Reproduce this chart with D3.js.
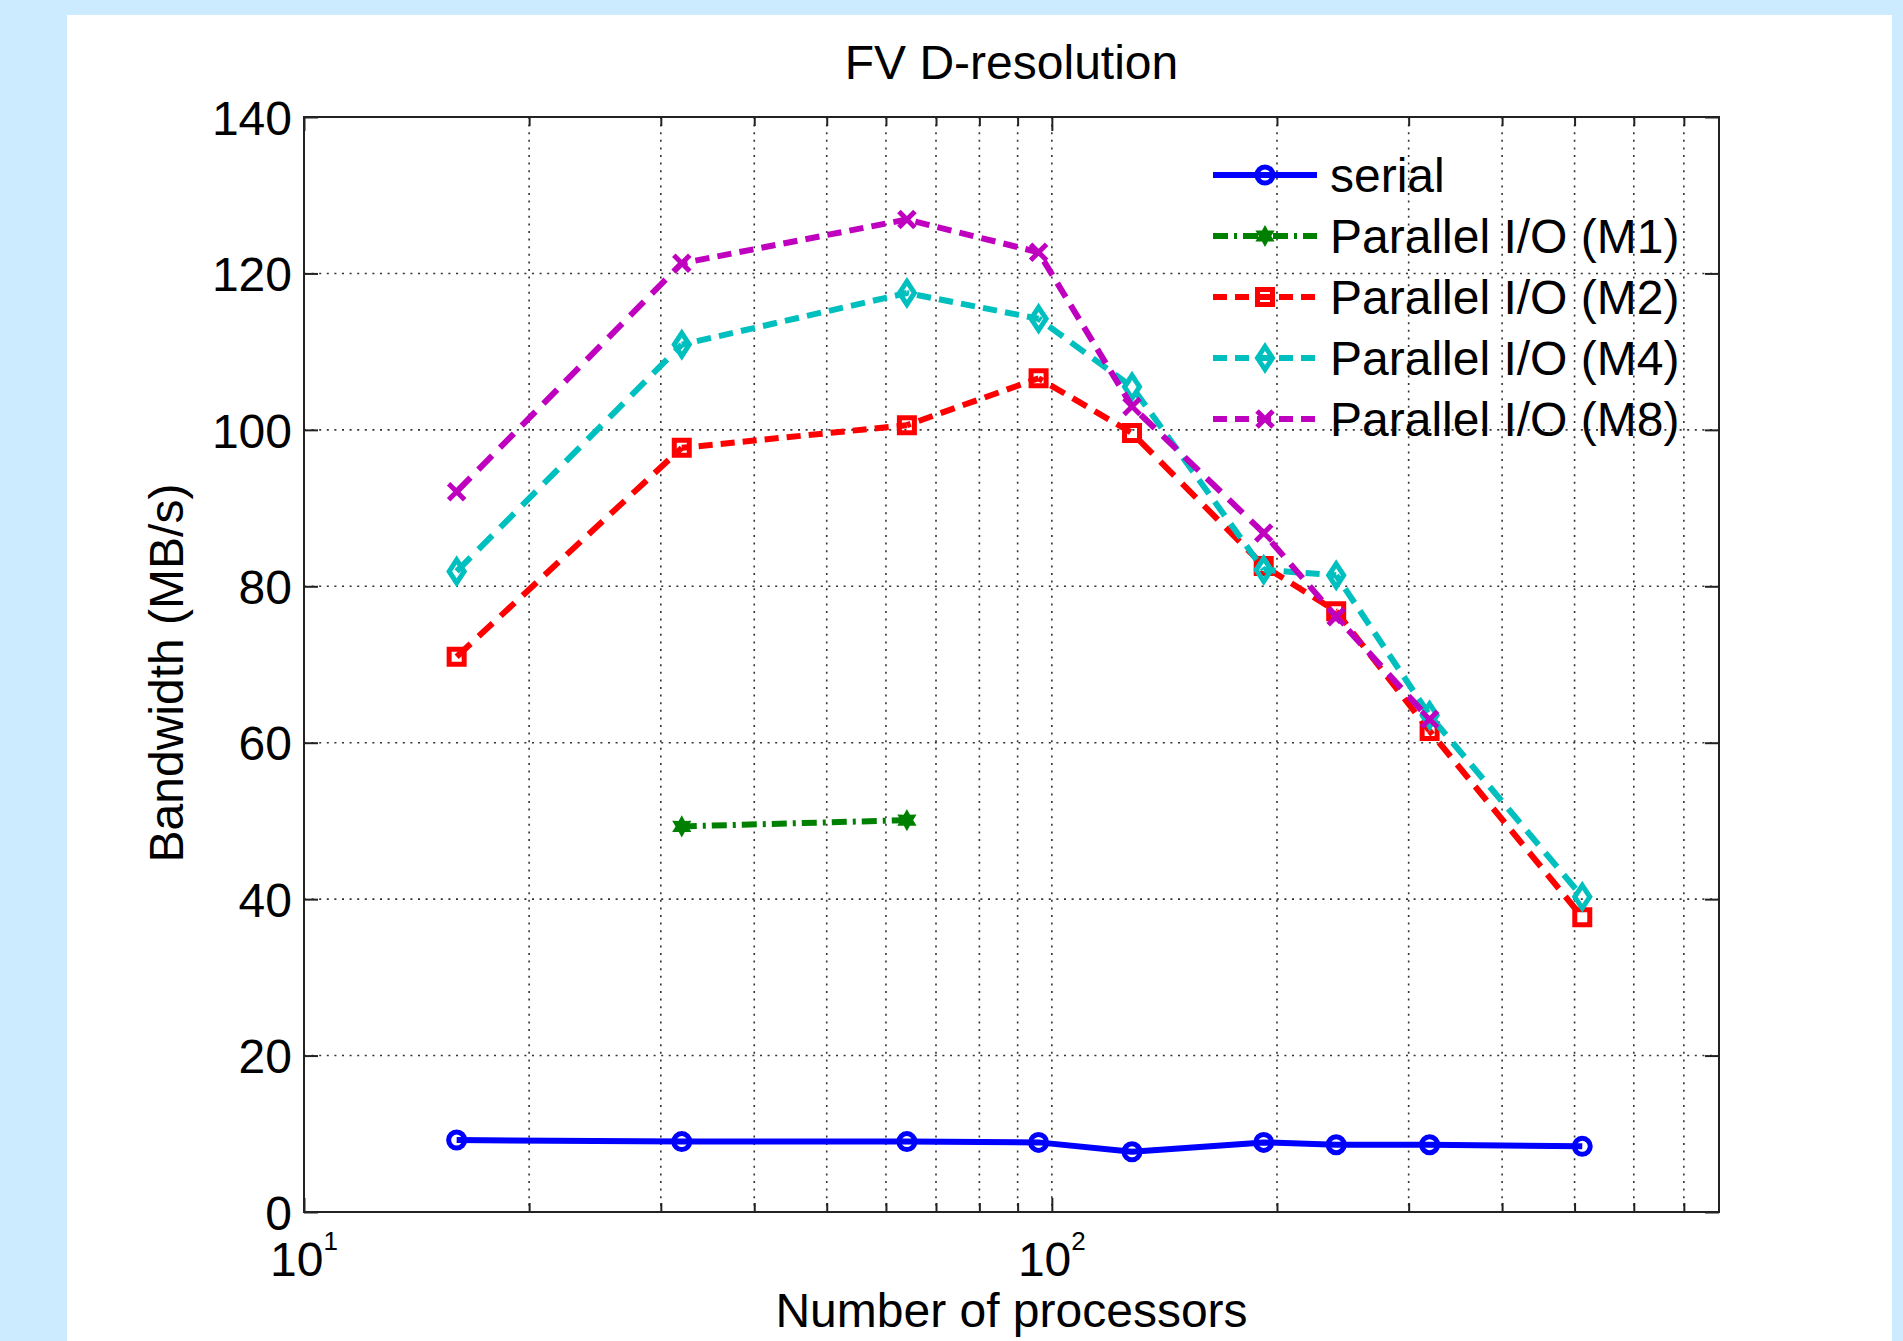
<!DOCTYPE html>
<html>
<head>
<meta charset="utf-8">
<script src="https://cdn.jsdelivr.net/npm/d3@7"></script>
<style>
  html, body { margin: 0; padding: 0; background: #ccebff; }
  svg { display: block; }
  text { font-family: "Liberation Sans", Arial, Helvetica, sans-serif; fill: #000; }
</style>
</head>
<body>
<svg id="chart" width="1903" height="1341"></svg>
<script>
// data
let procs = [16, 32, 64, 96, 128, 192, 240, 320, 512];
let serial = [9.2, 9.0, 9.0, 8.9, 7.7, 8.9, 8.6, 8.6, 8.4];
let m1Procs = [32, 64];
let m1 = [49.3, 50.1];
let m2 = [71.0, 97.7, 100.6, 106.6, 99.6, 82.6, 76.8, 61.5, 37.7];
let m4 = [81.9, 110.9, 117.5, 114.2, 105.5, 82.1, 81.4, 63.5, 40.3];
let m8Procs = [16, 32, 64, 96, 128, 192, 240, 320];
let m8 = [92.1, 121.3, 126.9, 122.7, 103.0, 86.8, 76.1, 63.0];

let seriesNames = ["serial", "Parallel I/O (M1)", "Parallel I/O (M2)", "Parallel I/O (M4)", "Parallel I/O (M8)"];
let yTicks = [0, 20, 40, 60, 80, 100, 120, 140];
let xMajor = [10, 100];
let xMinor = [20, 30, 40, 50, 60, 70, 80, 90, 200, 300, 400, 500, 600, 700];

let title = "FV D-resolution";
let xTitle = "Number of processors";
let yTitle = "Bandwidth (MB/s)";

let svg = d3.select("#chart");

let pLeft = 304, pRight = 1719, pTop = 117, pBottom = 1212;

let xScale = d3.scaleLog().domain([10, 780]).range([pLeft, pRight]);
let yScale = d3.scaleLinear().domain([0, 140]).range([pBottom, pTop]);

let series = [
  {name: seriesNames[0], xs: procs, ys: serial, color: "#0000ff", dash: null, marker: "circle"},
  {name: seriesNames[1], xs: m1Procs, ys: m1, color: "#008000", dash: [15, 6, 3, 6], marker: "hexagram"},
  {name: seriesNames[2], xs: procs, ys: m2, color: "#ff0000", dash: [14, 8], marker: "square"},
  {name: seriesNames[3], xs: procs, ys: m4, color: "#00bfbf", dash: [14, 8], marker: "diamond"},
  {name: seriesNames[4], xs: m8Procs, ys: m8, color: "#bf00bf", dash: [14, 8], marker: "x"}
];

let lineWidth = 6;

// white panel
svg.append("rect")
   .attr("x", 67).attr("y", 15)
   .attr("width", 1892 - 67).attr("height", 1341 - 15)
   .attr("fill", "#ffffff");

// grid
let grid = svg.append("g").attr("class", "grid")
              .attr("stroke", "#333").attr("stroke-width", 1.6)
              .attr("stroke-dasharray", "2,5.6");

grid.selectAll(".gx")
    .data(xMinor.concat([100]))
    .enter().append("line")
    .attr("x1", d => xScale(d)).attr("x2", d => xScale(d))
    .attr("y1", pTop).attr("y2", pBottom);

grid.selectAll(".gy")
    .data(yTicks.slice(1, -1))
    .enter().append("line")
    .attr("x1", pLeft).attr("x2", pRight)
    .attr("y1", d => yScale(d)).attr("y2", d => yScale(d));

// axes with inner ticks on all sides
let yAxisL = d3.axisLeft(yScale).tickValues(yTicks).tickSizeInner(-14).tickSizeOuter(0).tickPadding(12);
let yAxisR = d3.axisRight(yScale).tickValues(yTicks).tickSizeInner(-14).tickSizeOuter(0).tickFormat("");
let xAxisB = d3.axisBottom(xScale).tickValues(xMajor).tickSizeInner(-14).tickSizeOuter(0).tickFormat("");
let xAxisT = d3.axisTop(xScale).tickValues(xMajor).tickSizeInner(-14).tickSizeOuter(0).tickFormat("");
let xMinorB = d3.axisBottom(xScale).tickValues(xMinor).tickSizeInner(-9).tickSizeOuter(0).tickFormat("");
let xMinorT = d3.axisTop(xScale).tickValues(xMinor).tickSizeInner(-9).tickSizeOuter(0).tickFormat("");

svg.append("g").attr("class", "yAxis").attr("transform", `translate(${pLeft},0)`).call(yAxisL);
svg.append("g").attr("transform", `translate(${pRight},0)`).call(yAxisR);
svg.append("g").attr("class", "xAxis").attr("transform", `translate(0,${pBottom})`).call(xAxisB);
svg.append("g").attr("transform", `translate(0,${pTop})`).call(xAxisT);
svg.append("g").attr("transform", `translate(0,${pBottom})`).call(xMinorB);
svg.append("g").attr("transform", `translate(0,${pTop})`).call(xMinorT);

svg.selectAll(".domain").remove();
svg.selectAll(".tick line").attr("stroke", "#222").attr("stroke-width", 2);
svg.select(".yAxis").selectAll("text")
   .attr("font-size", 48)
   .attr("font-family", "'Liberation Sans', Arial, sans-serif")
   .attr("fill", "#000")
   .attr("dy", "0.36em");

// x tick labels: 10^n
svg.selectAll(".xlab")
   .data(xMajor)
   .enter().append("text")
   .attr("x", d => xScale(d))
   .attr("y", 1276)
   .attr("text-anchor", "middle")
   .attr("font-size", 48)
   .each(function (d) {
     let t = d3.select(this);
     t.append("tspan").text("10");
     t.append("tspan").attr("dy", -26).attr("font-size", 26).text(Math.round(Math.log10(d)));
   });

// box
svg.append("rect")
   .attr("x", pLeft).attr("y", pTop)
   .attr("width", pRight - pLeft).attr("height", pBottom - pTop)
   .attr("fill", "none").attr("stroke", "#222").attr("stroke-width", 2);

// markers
function markerPath(type) {
  if (type === "circle") {
    let r = 8;
    return `M${-r},0A${r},${r} 0 1,0 ${r},0A${r},${r} 0 1,0 ${-r},0Z`;
  }
  if (type === "square") {
    let s = 7.5;
    return `M${-s},${-s}H${s}V${s}H${-s}Z`;
  }
  if (type === "diamond") {
    return "M0,-11.5L7.5,0L0,11.5L-7.5,0Z";
  }
  if (type === "x") {
    let s = 8;
    return `M${-s},${-s}L${s},${s}M${-s},${s}L${s},${-s}`;
  }
  // hexagram
  let pts = [];
  for (let i = 0; i < 12; i++) {
    let a = Math.PI / 6 * i - Math.PI / 2;
    let r = i % 2 === 0 ? 8 : 4.5;
    pts.push([r * Math.cos(a), r * Math.sin(a)]);
  }
  return "M" + pts.map(p => p.join(",")).join("L") + "Z";
}

function markerWidth(type) {
  if (type === "hexagram") return 3;
  return 5;
}

// dashed lines: the pattern is counted along the major axis of each segment
// (like the old raster stipple), so steep segments get longer dashes
function drawDashed(g, pts, s) {
  let period = d3.sum(s.dash);
  let acc = 0;
  for (let i = 0; i < pts.length - 1; i++) {
    let x1 = xScale(pts[i].x), y1 = yScale(pts[i].y);
    let x2 = xScale(pts[i + 1].x), y2 = yScale(pts[i + 1].y);
    let dx = x2 - x1, dy = y2 - y1;
    let len = Math.hypot(dx, dy);
    let major = Math.max(Math.abs(dx), Math.abs(dy));
    let f = len / major;
    g.append("line")
     .attr("x1", x1).attr("y1", y1)
     .attr("x2", x2).attr("y2", y2)
     .attr("stroke", s.color)
     .attr("stroke-width", lineWidth)
     .attr("stroke-dasharray", s.dash.map(v => v * f).join(","))
     .attr("stroke-dashoffset", (acc % period) * f);
    acc += major;
  }
}

let lineGen = d3.line()
                .x(d => xScale(d.x))
                .y(d => yScale(d.y));

let body = svg.append("g").attr("class", "body");

series.forEach(s => {
  let pts = s.xs.map((x, i) => ({x: x, y: s.ys[i]}));

  if (s.dash) {
    drawDashed(body, pts, s);
  } else {
    body.append("path")
        .datum(pts)
        .attr("d", lineGen)
        .attr("fill", "none")
        .attr("stroke", s.color)
        .attr("stroke-width", lineWidth)
        .attr("stroke-linejoin", "round");
  }

  body.selectAll(null)
      .data(pts)
      .enter().append("path")
      .attr("d", markerPath(s.marker))
      .attr("transform", d => `translate(${xScale(d.x)},${yScale(d.y)})`)
      .attr("fill", s.marker === "hexagram" ? s.color : "none")
      .attr("stroke", s.color)
      .attr("stroke-width", markerWidth(s.marker));
});

// legend (no box)
let legend = svg.append("g").attr("class", "legend");
series.forEach((s, i) => {
  let cy = 175 + i * 61;
  legend.append("line")
        .attr("x1", 1213).attr("x2", 1317)
        .attr("y1", cy).attr("y2", cy)
        .attr("stroke", s.color)
        .attr("stroke-width", lineWidth)
        .attr("stroke-dasharray", s.dash ? s.dash.join(",") : null);
  legend.append("path")
        .attr("d", markerPath(s.marker))
        .attr("transform", `translate(1265,${cy})`)
        .attr("fill", s.marker === "hexagram" ? s.color : "none")
        .attr("stroke", s.color)
        .attr("stroke-width", markerWidth(s.marker));
  legend.append("text")
        .attr("x", 1330).attr("y", cy + 17)
        .attr("font-size", 48)
        .text(s.name);
});

// titles
svg.append("text")
   .attr("x", (pLeft + pRight) / 2).attr("y", 79)
   .attr("text-anchor", "middle").attr("font-size", 48)
   .text(title);

svg.append("text")
   .attr("x", (pLeft + pRight) / 2).attr("y", 1327)
   .attr("text-anchor", "middle").attr("font-size", 48)
   .text(xTitle);

svg.append("text")
   .attr("transform", "translate(183,673) rotate(-90)")
   .attr("text-anchor", "middle").attr("font-size", 48)
   .text(yTitle);
</script>
</body>
</html>
